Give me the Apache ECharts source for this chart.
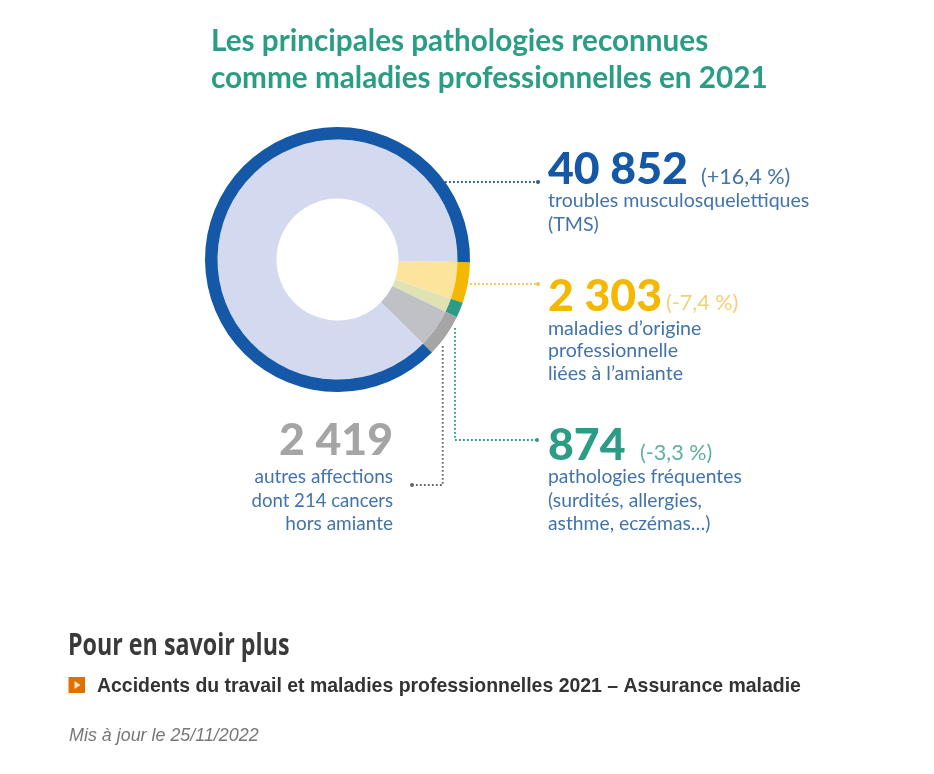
<!DOCTYPE html>
<html><head><meta charset="utf-8">
<style>html,body{margin:0;padding:0;background:#fff}#c{width:934px;height:774px}</style>
<script src="https://cdn.jsdelivr.net/npm/echarts@6/dist/echarts.min.js"></script>
</head><body><div id="c"></div>
<script>
const categories = ["maladies d'origine professionnelle liées à l'amiante", "pathologies fréquentes", "autres affections", "troubles musculosquelettiques (TMS)"];
const values = [2303, 874, 2419, 40852];
const valueLabels = ["2 303", "874", "2 419", "40 852"];
const changes = ["(-7,4 %)", "(-3,3 %)", "", "(+16,4 %)"];
const ringColors = ["#f5b800", "#2a9d84", "#a5a5a5", "#1558a8"];
const paleColors = ["#fde49c", "#dfe3b4", "#c0c1c6", "#d3daf0"];
const titleLines = "Les principales pathologies reconnues\ncomme maladies professionnelles en 2021";
const body = "Liberation Sans";
const round = "Lato";
const blue = "#4273ab";

function txt(x, y, text, size, color, opts) {
  const extra = Object.assign({}, opts||{});
  const sx = extra.sx || 1; delete extra.sx;
  return {type:'text', x, y, scaleX:sx, silent:true, style:Object.assign({text, fontSize:size, fill:color, fontFamily:round, textVerticalAlign:'middle', textBaseline:'middle'}, extra)};
}
function dots(points, color) {
  return [
    {type:'polyline', silent:true, shape:{points}, style:{stroke:color, lineWidth:1.8, lineDash:[1.8,2.2], fill:null}},
    {type:'circle', silent:true, shape:{cx:points[points.length-1][0], cy:points[points.length-1][1], r:2}, style:{fill:color}}
  ];
}
const chart = echarts.init(document.getElementById('c'), null, {renderer:'canvas'});
const mk = (colors) => values.map((v,i)=>({name:categories[i], value:v, itemStyle:{color:colors[i]}}));
const base = {type:'pie', center:[337.5,259.5], startAngle:-1.2, clockwise:true, silent:true, animation:false, label:{show:false}, labelLine:{show:false}};
const num = {fontWeight:900};
chart.setOption({
  animation:false,
  backgroundColor:'#fff',
  series:[
    Object.assign({}, base, {radius:[61,120], data:mk(paleColors)}),
    Object.assign({}, base, {radius:[120,132.5], data:mk(ringColors)})
  ],
  graphic:[
    {type:'text', x:211, y:23, silent:true, style:{text:titleLines, fontSize:29.7, fontWeight:'bold', fill:'#2a9d84', fontFamily:round, lineHeight:37}},
    ...dots([[445,182],[538,182]], '#2a5d9c'),
    ...dots([[470,284],[538,284]], '#f3c64a'),
    ...dots([[455,328],[455,440],[537,440]], '#2a9d84'),
    ...dots([[442.7,346],[442.7,485],[412,485]], '#666'),

    txt(548,169.5,valueLabels[3],44.6,'#1558a8',num),
    txt(701,177,changes[3],21.6,blue),
    txt(548,201,"troubles musculosquelettiques",19.6,blue),
    txt(548,225,"(TMS)",19.6,blue),

    txt(548,296.5,valueLabels[0],44.6,'#f5b800',num),
    txt(666,303,changes[0],21.6,'#f4cf78'),
    txt(548,329,"maladies d’origine",19.6,blue),
    txt(548,351,"professionnelle",19.6,blue),
    txt(548,374,"liées à l’amiante",19.6,blue),

    txt(548,445.5,valueLabels[1],44.6,'#2a9d84',num),
    txt(640,453,changes[1],21.6,'#5fb09f'),
    txt(548,477,"pathologies fréquentes",19.3,blue),
    txt(548,501,"(surdités, allergies,",19.3,blue),
    txt(548,524,"asthme, eczémas…)",19.3,blue),

    txt(393,440.5,valueLabels[2],44.6,'#a5a5a5',Object.assign({textAlign:'right'},num)),
    txt(393,477,"autres affections",19,blue,{textAlign:'right'}),
    txt(393,501,"dont 214 cancers",18.6,blue,{textAlign:'right'}),
    txt(393,524,"hors amiante",19,blue,{textAlign:'right'}),

    txt(68,646,"Pour en savoir plus",31,'#3a3a3a',{fontFamily:'Open Sans',fontWeight:'bold',sx:0.75}),
    {type:'rect', silent:true, shape:{x:68.5,y:677,width:16.5,height:16}, style:{fill:'#e07000'}},
    {type:'polygon', silent:true, shape:{points:[[74.5,681],[74.5,689],[80.5,685]]}, style:{fill:'#fbe3c8'}},
    txt(97,686.5,"Accidents du travail et maladies professionnelles 2021 – Assurance maladie",19.47,'#333',{fontFamily:body,fontWeight:'bold'}),
    txt(69,736,"Mis à jour le 25/11/2022",17.9,'#777',{fontFamily:body,fontStyle:'italic'})
  ]
});
</script></body></html>
